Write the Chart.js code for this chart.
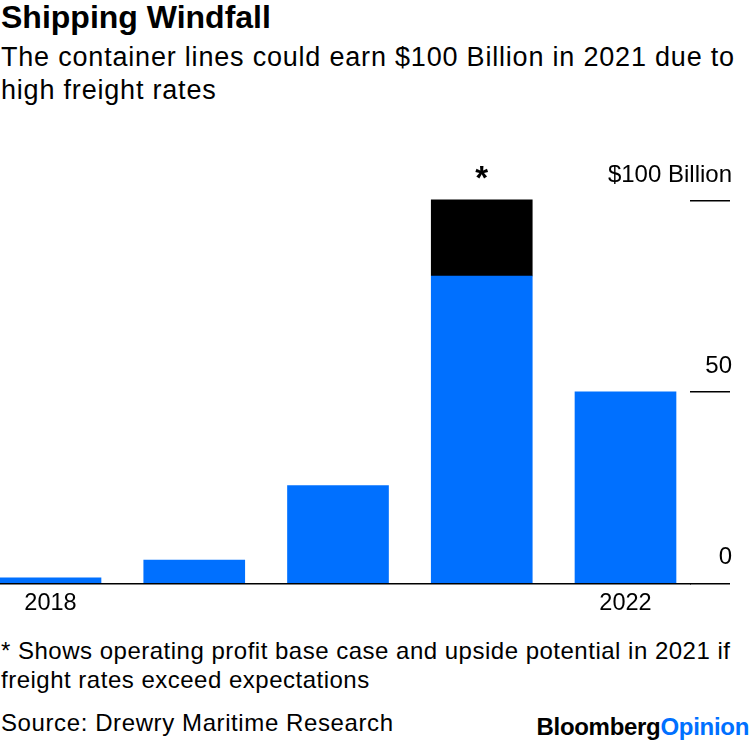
<!DOCTYPE html>
<html>
<head>
<meta charset="utf-8">
<script src="https://cdn.jsdelivr.net/npm/chart.js@4.4.0/dist/chart.umd.min.js"></script>
<style>
  body { margin: 0; width: 750px; height: 740px; overflow: hidden; position: relative; background: #fff; color: #000; font-family: "Liberation Sans", Arial, sans-serif; }
  #title { position: absolute; left: 1px; top: -1px; font-weight: bold; font-size: 32px; line-height: 36px; }
  #subtitle { position: absolute; left: 1px; top: 41px; font-size: 27px; line-height: 33px; letter-spacing: 0.8px; width: 750px; }
  #chartBox { position: absolute; left: 0; top: 140px; width: 750px; height: 480px; }
  #note { position: absolute; left: 1px; top: 636px; font-size: 24px; line-height: 29px; letter-spacing: 0.5px; width: 750px; }
  #source { position: absolute; left: 1px; top: 708px; font-size: 24px; line-height: 29px; letter-spacing: 0.6px; }
  #logo { position: absolute; right: 1px; top: 712px; font-weight: bold; font-size: 24px; line-height: 29px; letter-spacing: -0.3px; }
  #logo span { color: #0070ff; }
</style>
</head>
<body>
<div id="title">Shipping Windfall</div>
<div id="subtitle">The container lines could earn $100 Billion in 2021 due to<br>high freight rates</div>
<div id="chartBox"><canvas id="shipChart"></canvas></div>
<div id="note">* Shows operating profit base case and upside potential in 2021 if<br>freight rates exceed expectations</div>
<div id="source">Source: Drewry Maritime Research</div>
<div id="logo">Bloomberg<span>Opinion</span></div>
<script>
// Bénéfice d'exploitation des lignes de conteneurs, en milliards de dollars
const years = [2018, 2019, 2020, 2021, 2022];
const baseProfit = [1.5, 6.1, 25.6, 80.4, 50.1];
const upside = [null, null, null, 19.9, null];
const yTicks = [0, 50, 100];
const xTicks = [2018, 2022];
const starIndex = 3;

const blue = '#0070ff';
const fontFamily = '"Liberation Sans", Arial, sans-serif';

// Astérisque au-dessus de la barre 2021
const starLabel = {
    id: 'starLabel',
    afterDatasetsDraw(chart) {
        const bar = chart.getDatasetMeta(1).data[starIndex];
        if (!bar) return;
        const c = chart.ctx;
        c.save();
        c.font = 'bold 33px ' + fontFamily;
        c.textAlign = 'center';
        c.textBaseline = 'alphabetic';
        c.fillStyle = '#000';
        c.fillText('*', bar.x, bar.y - 11);
        c.restore();
    }
};

const ctx = document.getElementById('shipChart');
new Chart(ctx, {
    type: 'bar',
    data: {
        labels: years,
        datasets: [
            { label: 'Base case', data: baseProfit, backgroundColor: blue, barThickness: 101 },
            { label: 'Upside', data: upside, backgroundColor: '#000', barThickness: 101 }
        ]
    },
    options: {
        responsive: true,
        maintainAspectRatio: false,
        animation: false,
        layout: { padding: { top: 22.75, right: 18, left: 0, bottom: 0 } },
        plugins: {
            legend: { display: false },
            tooltip: { enabled: false }
        },
        scales: {
            x: {
                type: 'linear',
                offset: false,
                stacked: true,
                min: 2017.6487,
                max: 2022.4487,
                grid: { display: false, drawTicks: false, offset: false },
                border: { display: true, color: '#000', width: 1.5 },
                afterBuildTicks: s => { s.ticks = xTicks.map(v => ({ value: v })); },
                afterFit: s => { s.height = 36.5; },
                ticks: {
                    callback: v => String(v),
                    color: '#000',
                    font: { family: fontFamily, size: 23.5 },
                    padding: 6,
                    maxRotation: 0,
                    autoSkip: false
                }
            },
            y: {
                position: 'right',
                stacked: true,
                min: 0,
                max: 110,
                grid: { drawOnChartArea: false, tickLength: 40, color: '#000', lineWidth: 1.5 },
                border: { display: false },
                afterBuildTicks: s => { s.ticks = yTicks.map(v => ({ value: v })); },
                afterFit: s => {
                    s.width = 42;
                    s.paddingTop = 0;
                    s.paddingBottom = 0;
                },
                ticks: {
                    mirror: true,
                    padding: 42,
                    labelOffset: -26,
                    callback: v => v === 100 ? '$100 Billion' : String(v),
                    color: '#000',
                    font: { family: fontFamily, size: 24 }
                }
            }
        }
    },
    plugins: [starLabel]
});
</script>
</body>
</html>
